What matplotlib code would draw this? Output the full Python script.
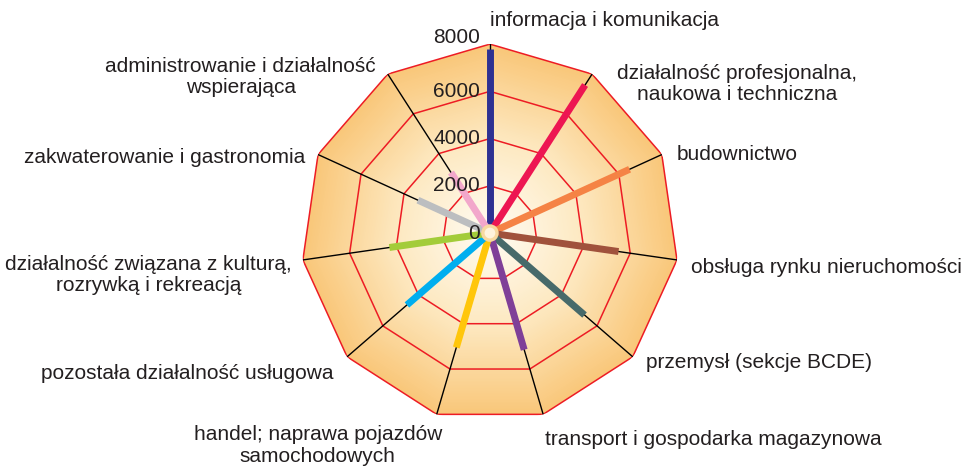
import numpy as np
import matplotlib
matplotlib.use("Agg")
import matplotlib.pyplot as plt
from matplotlib.colors import LinearSegmentedColormap

plt.rcParams["font.family"] = ["Liberation Sans", "DejaVu Sans"]

# dane
categories = [
    "informacja i komunikacja",
    "działalność profesjonalna,\nnaukowa i techniczna",
    "budownictwo",
    "obsługa rynku nieruchomości",
    "przemysł (sekcje BCDE)",
    "transport i gospodarka magazynowa",
    "handel; naprawa pojazdów\nsamochodowych",
    "pozostała działalność usługowa",
    "działalność związana z kulturą,\nrozrywką i rekreacją",
    "zakwaterowanie i gastronomia",
    "administrowanie i działalność\nwspierająca",
]
values = [7800, 7450, 6500, 5500, 5300, 5150, 5050, 4650, 4300, 3350, 3050]
bar_colors = ["#2e3192", "#ed1652", "#f58345", "#a0523c", "#476a6a", "#7f3f98",
              "#ffc60b", "#00aeef", "#a3cc3a", "#bcbec0", "#f2a7cb"]
rings = [2000, 4000, 6000, 8000]
tick_labels = ["0", "2000", "4000", "6000", "8000"]

# pozycje etykiet (ułamki figury) i wyrównanie
label_pos = [
    (0.509, 0.957, "left"), (0.765, 0.820, "center"), (0.703, 0.668, "left"),
    (0.718, 0.425, "left"), (0.671, 0.223, "left"), (0.566, 0.056, "left"),
    (0.330, 0.044, "center"), (0.346, 0.199, "right"), (0.154, 0.410, "center"),
    (0.317, 0.663, "right"), (0.250, 0.834, "center"),
]

rmax = 8000
n = len(categories)
theta = np.arange(n) * 2 * np.pi / n
theta_c = np.append(theta, theta[0])

fig = plt.figure(figsize=(9.63, 4.66), dpi=100)
ax = fig.add_axes([0.3125, 0.0944, 0.3925, 0.811], projection="polar")
ax.set_theta_zero_location("N")
ax.set_theta_direction(-1)
ax.set_ylim(0, rmax)
ax.axis("off")

# tło - gradient promieniowy
cmap = LinearSegmentedColormap.from_list("bg", ["#fffcf4", "#fde9c2", "#f9c77a"])
for r in np.linspace(rmax, 50, 120):
    ax.fill(theta_c, np.full(n + 1, r), color=cmap(r / rmax), lw=0, zorder=1)

# siatka
for r in rings:
    ax.plot(theta_c, np.full(n + 1, r), color="#ed1c24", lw=1.1, zorder=2)
for t in theta:
    ax.plot([t, t], [0, rmax], color="black", lw=1.0, zorder=3)

# słupki
for t, v, c in zip(theta, values, bar_colors):
    ax.plot([t, t], [0, v], color=c, lw=5, solid_capstyle="butt", zorder=4)

ax.scatter([0], [0], s=160, color="#f8d9a0", edgecolors="none", zorder=5)
ax.scatter([0], [0], s=60, color="#fff3dc", edgecolors="none", zorder=6)

# etykiety osi
for i, lab in enumerate(tick_labels):
    dy = 5 if i == len(tick_labels) - 1 else 0
    ax.annotate(lab, xy=(0, i * 2000), xytext=(-7, dy), textcoords="offset points",
                ha="right", va="center", fontsize=15, color="#231f20", zorder=7)

for lab, (x, y, ha) in zip(categories, label_pos):
    fig.text(x, y, lab, ha=ha, va="center", fontsize=15, color="#231f20",
             linespacing=1.15)

fig.savefig("out.png", dpi=100)
